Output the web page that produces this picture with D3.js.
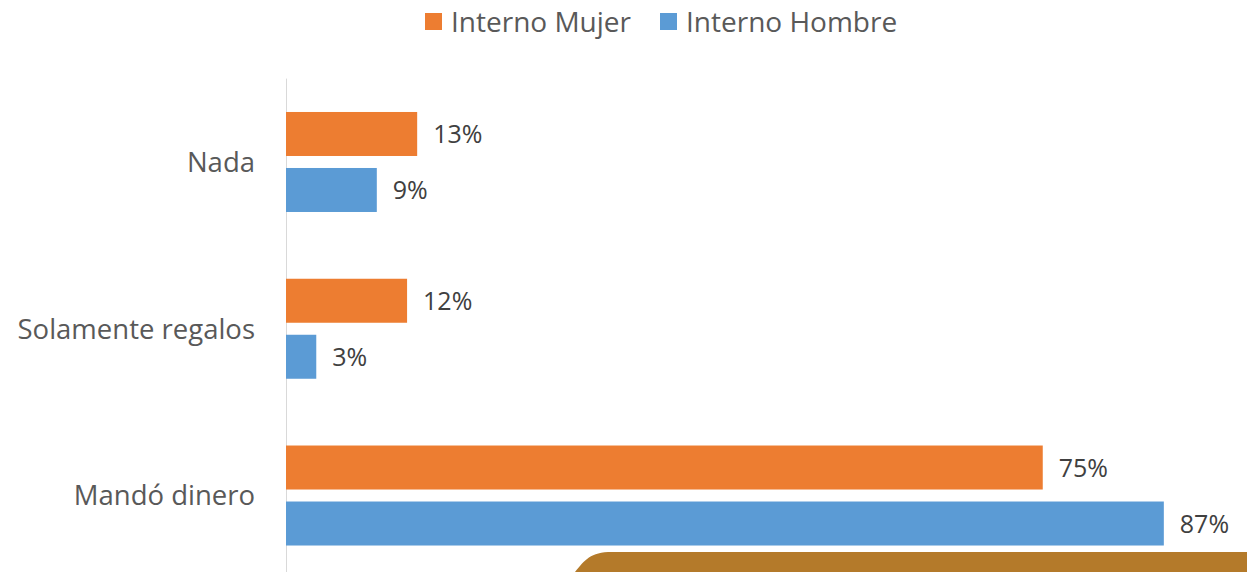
<!DOCTYPE html>
<html>
<head>
<meta charset="utf-8">
<script src="https://cdn.jsdelivr.net/npm/d3@7"></script>
<style>
  html, body { margin: 0; padding: 0; background: #fff; }
  svg { display: block; }
</style>
</head>
<body>
<svg id="chart" width="1247" height="572"></svg>
<script>
const categories = ["Nada", "Solamente regalos", "Mandó dinero"];
const seriesNames = ["Interno Mujer", "Interno Hombre"];
const mujerValues = [0.13, 0.12, 0.75];
const hombreValues = [0.09, 0.03, 0.87];
const seriesColors = ["#ED7D31", "#5B9BD5"];

const svg = d3.select("#chart");
const font = "'Open Sans', 'Segoe UI', sans-serif";

const x0 = 286;
const x = d3.scaleLinear().domain([0, 1]).range([x0, x0 + 1009]);
const y = d3.scaleBand().domain(categories).range([78.6, 578.9]).padding(0);
const inner = d3.scaleBand().domain(seriesNames)
  .range([y.bandwidth() / 2 - 50, y.bandwidth() / 2 + 50])
  .paddingInner(0.2143).paddingOuter(0);

// decorative shape bottom-right
svg.append("path")
  .attr("d", "M575,572 C585,560 590,552 612,552 L1247,552 L1247,572 Z")
  .attr("fill", "#B47A2A");

// axis line
svg.append("line")
  .attr("x1", x0 + 0.5).attr("x2", x0 + 0.5)
  .attr("y1", y.range()[0]).attr("y2", 572)
  .attr("stroke", "#D9D9D9").attr("stroke-width", 1);

const data = categories.map((c, i) => ({
  cat: c,
  vals: [mujerValues[i], hombreValues[i]]
}));

const groups = svg.selectAll("g.cat").data(data).join("g")
  .attr("class", "cat")
  .attr("transform", d => `translate(0,${y(d.cat)})`);

groups.selectAll("rect").data(d => d.vals.map((v, j) => ({ v, s: seriesNames[j], j })))
  .join("rect")
  .attr("x", x(0))
  .attr("y", d => inner(d.s))
  .attr("width", d => x(d.v) - x(0))
  .attr("height", inner.bandwidth())
  .attr("fill", d => seriesColors[d.j]);

groups.selectAll("text.val").data(d => d.vals.map((v, j) => ({ v, s: seriesNames[j], j })))
  .join("text")
  .attr("class", "val")
  .attr("x", d => x(d.v) + 16)
  .attr("y", d => inner(d.s) + inner.bandwidth() / 2)
  .attr("dy", "0.36em")
  .attr("font-family", font)
  .attr("font-size", 25)
  .attr("fill", "#404040")
  .text(d => d3.format(".0%")(d.v));

// category labels
svg.selectAll("text.cat").data(categories).join("text")
  .attr("class", "cat")
  .attr("x", 255)
  .attr("y", d => y(d) + y.bandwidth() / 2)
  .attr("dy", "0.36em")
  .attr("text-anchor", "end")
  .attr("font-family", font)
  .attr("font-size", 27.5)
  .attr("fill", "#595959")
  .text(d => d);

// legend
const legendX = [425, 660];
const leg = svg.selectAll("g.leg").data(seriesNames).join("g")
  .attr("class", "leg")
  .attr("transform", (d, i) => `translate(${legendX[i]},0)`);
leg.append("rect")
  .attr("x", 0).attr("y", 13).attr("width", 17).attr("height", 17)
  .attr("fill", (d, i) => seriesColors[i]);
leg.append("text")
  .attr("x", 26).attr("y", 21.5).attr("dy", "0.36em")
  .attr("font-family", font).attr("font-size", 28)
  .attr("fill", "#595959")
  .text(d => d);
</script>
</body>
</html>
